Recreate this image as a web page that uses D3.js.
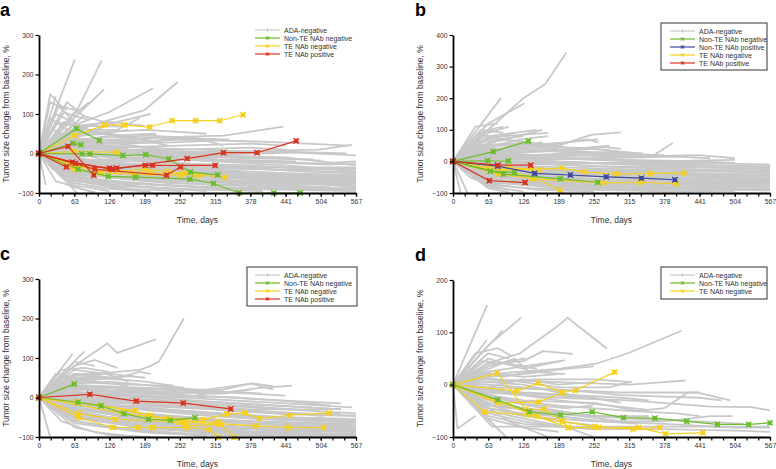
<!DOCTYPE html>
<html>
<head>
<meta charset="utf-8">
<script src="https://cdn.jsdelivr.net/npm/d3@7"></script>
<style>
  body { margin: 0; background: #fff; }
  svg { font-family: "Liberation Sans", Arial, sans-serif; }
</style>
</head>
<body>
<script>
// x ticks shared by every panel
const dayTicks = [0, 63, 126, 189, 252, 315, 378, 441, 504, 567];
const minorDays = d3.range(0, 568, 21);

// each line is a flat list: day, value, day, value ...
const grayA = [
  [0,0, 64,238], [0,0, 20,150, 40,120, 63,110], [0,0, 30,145], [0,0, 50,130, 80,95],
  [0,0, 70,115, 112,235], [0,0, 63,90, 116,162], [0,0, 60,70, 126,105, 204,165],
  [0,0, 63,60, 189,110, 248,181], [0,0, 63,40, 140,80, 200,100], [0,0, 80,60, 140,60, 180,90],
  [0,0, 63,50, 189,60, 250,55, 300,50], [0,0, 63,30, 200,40, 330,45, 437,68],
  [0,0, 63,20, 252,35, 400,30, 556,20], [0,0, 70,35, 180,30, 280,40, 330,20],
  [0,0, 63,10, 126,15, 252,20, 380,25, 441,20], [0,0, 63,-5, 189,5, 315,-5, 441,-10, 567,-30],
  [0,0, 63,-20, 189,-10, 315,-20, 441,-30, 567,-45], [0,0, 63,-30, 189,-40, 315,-50, 441,-55, 567,-70],
  [0,0, 63,-40, 200,-60, 350,-70, 500,-75, 567,-75], [0,0, 63,-50, 189,-70, 315,-80, 480,-85, 567,-90],
  [0,0, 40,-60, 126,-80, 250,-90, 400,-95], [0,0, 12,-80], [0,0, 68,-100], [0,0, 30,-70, 100,-100],
  [0,0, 63,-60, 189,-85, 300,-95], [0,0, 60,15, 120,-10, 250,-25, 378,-30, 504,-40, 567,-40],
  [0,0, 63,5, 126,-20, 252,-40, 378,-55, 504,-60, 567,-60], [0,0, 63,-10, 150,-30, 280,-45, 420,-50, 530,-55],
  [0,0, 63,-25, 140,-50, 270,-65, 410,-70, 560,-72], [0,0, 50,-35, 130,-60, 230,-75, 370,-80, 500,-85],
  [0,0, 63,25, 120,10, 200,-5, 320,-15, 460,-20], [0,0, 63,40, 100,30, 170,20, 250,0, 330,-10],
  [0,0, 45,80, 90,60, 150,40, 220,30], [0,0, 63,45, 126,50, 170,40, 230,20],
  [0,0, 30,100, 60,80, 100,50], [0,0, 25,60, 63,35, 120,25], [0,0, 40,50, 90,20, 160,10, 260,5, 350,0],
  [0,0, 63,0, 200,-20, 340,-35, 470,-45, 567,-50], [0,0, 63,-15, 160,-30, 300,-40, 440,-50, 567,-55],
  [0,0, 63,-45, 180,-55, 320,-62, 460,-65, 567,-65], [0,0, 63,-55, 200,-65, 360,-75, 500,-78, 567,-80],
  [0,0, 63,-35, 200,-45, 380,-60, 520,-60], [0,0, 63,-70, 170,-90, 260,-95], [0,0, 63,-80, 126,-95],
  [0,0, 40,-20, 120,-40, 220,-50, 330,-60, 470,-70, 567,-68], [0,0, 63,20, 140,30, 210,40, 270,35],
  [0,0, 63,65, 126,80, 189,70], [0,0, 80,95, 140,70], [0,0, 63,100, 90,130], [0,0, 20,130, 50,110],
  [0,0, 63,-8, 252,0, 441,5, 550,0], [0,0, 63,-2, 189,-15, 378,-20, 504,-25, 567,-20],
  [0,0, 70,15, 189,0, 330,5, 500,10, 560,22], [0,0, 63,-60, 150,-75, 280,-85, 420,-90, 567,-90],
  [0,0, 63,-45, 126,-60, 220,-70, 330,-72, 460,-80], [0,0, 90,-30, 190,-50, 260,-55, 380,-65, 500,-70, 567,-72],
  [0,0, 63,10, 160,-10, 300,-30, 420,-40], [0,0, 63,30, 126,45, 210,50],
  [0,0, 50,25, 126,10, 252,10, 378,15, 441,10], [0,0, 63,-25, 200,-35, 420,-40, 567,-38],
  [0,0, 63,-12, 126,-25, 220,-30, 350,-45, 470,-55, 567,-58], [0,0, 63,-18, 150,-35, 260,-42, 380,-48, 500,-62, 567,-62],
  [0,0, 63,-28, 126,-38, 252,-50, 378,-58, 504,-68], [0,0, 63,-38, 126,-48, 240,-58, 360,-62, 480,-72, 560,-78],
  [0,0, 63,-48, 140,-62, 252,-70, 400,-78, 520,-85], [0,0, 63,-58, 126,-68, 210,-78, 320,-88, 450,-92, 567,-95],
  [0,0, 63,-65, 150,-82, 270,-90, 380,-92], [0,0, 63,-75, 120,-88, 200,-97],
  [0,0, 63,2, 140,-8, 260,-15, 390,-22, 520,-28, 567,-25], [0,0, 63,8, 126,5, 240,-5, 370,-12, 490,-15],
  [0,0, 63,15, 126,20, 230,12, 330,8, 420,0], [0,0, 63,28, 140,25, 240,28, 300,32],
  [0,0, 63,35, 110,40, 200,45, 280,38, 340,35], [0,0, 40,40, 80,45, 130,55, 160,60],
  [0,0, 30,80, 63,70, 100,75], [0,0, 45,105, 63,95, 90,85], [0,0, 35,120, 63,80], [0,0, 20,90, 50,60, 80,50],
  [0,0, 63,55, 90,70, 150,68], [0,0, 63,-22, 189,-28, 315,-35, 441,-42, 567,-48],
  [0,0, 63,-33, 189,-48, 315,-58, 441,-62, 567,-60], [0,0, 63,-52, 189,-60, 315,-68, 441,-72, 567,-85],
  [0,0, 63,-68, 189,-78, 315,-85, 441,-88, 567,-88], [0,0, 63,-85, 100,-98], [0,0, 50,-50, 90,-75, 150,-90],
  [0,0, 25,-40, 60,-55, 110,-68], [0,0, 63,-6, 126,-2, 252,-10, 378,-8, 504,-18],
  [0,0, 63,18, 126,12, 252,2, 330,-2, 460,2, 567,-5], [0,0, 80,-15, 200,-22, 300,-30, 420,-35, 567,-35],
  [0,0, 63,-42, 160,-45, 300,-55, 441,-58, 567,-58], [0,0, 63,45, 100,20, 160,15], [0,0, 30,30, 63,25, 126,35, 170,28]
];
const greenA = [
  [0,0, 67,63, 108,33], [0,0, 61,26, 75,22],
  [0,0, 77,-1, 91,-1, 150,-5, 191,-3, 232,-14, 271,-47, 320,-54],
  [0,0, 70,-40, 124,-58, 173,-60, 270,-65, 312,-76, 358,-100, 420,-100, 467,-100]
];
const yellowA = [
  [0,0, 63,45, 117,72, 153,72, 198,67, 238,83, 280,83, 323,83, 365,98],
  [0,0, 63,5, 139,3],
  [0,0, 63,-30, 126,-45, 200,-50, 260,-50, 290,-55, 333,-60],
  [0,0, 70,-35, 140,-45, 189,-40, 230,-45, 280,-55],
  [0,0, 63,-40, 110,-50, 170,-52, 252,-55]
];
const redA = [
  [0,0, 49,-34],
  [0,0, 52,18, 98,-55],
  [0,0, 65,-25, 126,-37, 139,-37, 190,-30, 203,-30, 315,-30],
  [0,0, 60,-22, 130,-40, 265,-13, 330,2, 390,2, 460,32],
  [0,0, 100,-40, 228,-55, 253,-34]
];

const grayB = [
  [0,0, 126,200, 165,245, 203,345], [0,0, 86,201], [0,0, 63,120, 128,184], [0,0, 40,110, 80,120],
  [0,0, 63,90, 100,110], [0,0, 63,80, 150,100], [0,0, 70,60, 160,100],
  [0,0, 63,50, 126,60, 189,50, 240,80, 250,85, 300,92], [0,0, 63,40, 150,45, 240,70, 260,60],
  [0,0, 63,30, 189,35, 300,25, 360,20, 393,58], [0,0, 63,20, 189,20, 315,15, 441,20, 504,10],
  [0,0, 63,10, 200,10, 350,0, 504,5], [0,0, 63,0, 200,-5, 378,-10, 504,-15, 567,-20],
  [0,0, 63,-15, 200,-25, 378,-30, 567,-35], [0,0, 63,-30, 200,-45, 378,-55, 567,-55],
  [0,0, 63,-45, 200,-60, 378,-70, 567,-70], [0,0, 63,-55, 200,-75, 378,-80, 567,-80],
  [0,0, 63,-65, 200,-85, 378,-90, 567,-88], [0,0, 14,-100], [0,0, 26,-100], [0,0, 63,-80, 126,-95],
  [0,0, 63,60, 100,70], [0,0, 40,80, 63,100, 80,95], [0,0, 63,35, 126,50, 200,60, 260,70],
  [0,0, 63,25, 150,30, 250,40, 330,25], [0,0, 63,15, 140,5, 252,10, 400,15, 460,10],
  [0,0, 63,-5, 189,-10, 315,-20, 441,-25, 567,-28], [0,0, 63,-20, 189,-35, 315,-40, 441,-45, 567,-45],
  [0,0, 63,-35, 189,-50, 315,-60, 441,-62, 567,-62], [0,0, 63,-50, 189,-65, 315,-72, 441,-75, 567,-75],
  [0,0, 63,-60, 189,-80, 300,-85, 441,-85, 567,-85], [0,0, 63,-70, 150,-90, 252,-95],
  [0,0, 63,5, 126,20, 250,25, 378,20], [0,0, 63,45, 120,70, 170,80], [0,0, 63,70, 110,90],
  [0,0, 50,100, 90,90], [0,0, 63,-10, 200,-30, 350,-40, 500,-45], [0,0, 63,-25, 200,-40, 400,-50, 567,-50],
  [0,0, 63,-40, 150,-50, 300,-65, 480,-70, 567,-68], [0,0, 63,10, 126,0, 252,-5, 441,-5, 567,-10],
  [0,0, 63,-8, 126,-20, 252,-30, 378,-35, 504,-40, 567,-40], [0,0, 63,-45, 126,-55, 252,-65, 441,-70, 567,-72],
  [0,0, 63,30, 126,40, 189,30, 240,25], [0,0, 63,20, 126,30, 270,45, 300,40], [0,0, 80,50, 130,55, 160,60],
  [0,0, 63,-12, 189,-18, 315,-25, 441,-30, 567,-32], [0,0, 63,-28, 189,-30, 315,-35, 441,-40, 567,-42],
  [0,0, 63,-38, 189,-42, 315,-50, 441,-52, 567,-58], [0,0, 63,-48, 189,-55, 315,-65, 441,-68, 567,-65],
  [0,0, 63,-58, 189,-70, 315,-78, 441,-80, 567,-78], [0,0, 63,-68, 189,-75, 315,-82, 441,-88, 567,-92],
  [0,0, 63,-75, 140,-85, 252,-90, 378,-95, 504,-93], [0,0, 63,-3, 189,-2, 315,-8, 441,-12, 567,-15],
  [0,0, 63,8, 189,12, 315,5, 441,0, 504,-5], [0,0, 63,18, 140,15, 270,20, 350,15],
  [0,0, 63,28, 150,20, 200,25, 290,30, 340,25], [0,0, 63,38, 126,30, 220,40, 280,50],
  [0,0, 63,55, 126,45, 189,40], [0,0, 30,60, 63,65, 126,80], [0,0, 50,85, 90,70, 140,60],
  [0,0, 40,50, 100,55, 200,45], [0,0, 63,75, 126,85, 170,90], [0,0, 63,100, 90,110],
  [0,0, 63,-22, 126,-30, 252,-38, 378,-42, 504,-48], [0,0, 63,-32, 126,-45, 252,-55, 378,-58, 504,-62],
  [0,0, 63,-42, 126,-62, 252,-70, 378,-75], [0,0, 63,-52, 126,-70, 252,-80, 378,-84, 504,-85],
  [0,0, 63,-8, 126,-5, 252,-15, 378,-18, 504,-20, 567,-22], [0,0, 63,22, 189,10, 315,0, 441,-5],
  [0,0, 63,12, 189,0, 315,-10, 441,-18, 567,-25], [0,0, 30,-50, 63,-75, 100,-90], [0,0, 63,-85, 100,-97],
  [0,0, 63,48, 126,55, 189,45, 252,40]
];
const greenB = [
  [0,0, 72,31, 135,64], [0,0, 62,2, 99,1], [0,0, 67,-31, 110,-35], [0,0, 90,-40, 192,-55, 259,-66]
];
const blueB = [
  [0,0, 80,-15, 146,-38, 210,-43, 274,-49, 337,-53, 397,-58]
];
const yellowB = [
  [0,0, 63,-25, 140,-25, 194,-21, 234,-33, 293,-40, 353,-38, 413,-37],
  [0,0, 80,-40, 142,-55, 269,-68, 335,-66, 399,-71],
  [0,0, 63,-20, 145,-50, 192,-92],
  [0,0, 100,-20, 155,-27]
];
const redB = [
  [0,0, 65,-61, 129,-67], [0,0, 80,-12, 139,-12]
];

const grayC = [
  [0,0, 63,80, 122,137, 140,113, 209,147], [0,0, 100,60, 180,70, 200,80, 215,92, 259,200],
  [0,0, 81,117], [0,0, 60,110], [0,0, 63,80, 100,95, 140,75], [0,0, 63,60, 126,60, 190,50],
  [0,0, 63,50, 140,50, 180,65, 200,60], [0,0, 63,40, 126,35, 220,30, 260,25],
  [0,0, 63,30, 189,20, 300,20, 380,35, 419,20], [0,0, 63,20, 189,15, 315,10, 400,25, 453,30],
  [0,0, 63,10, 189,5, 315,-5, 441,-15, 560,-25], [0,0, 63,0, 189,-10, 315,-20, 441,-30, 567,-40],
  [0,0, 63,-10, 189,-25, 315,-40, 441,-50, 567,-55], [0,0, 63,-20, 189,-40, 315,-55, 441,-65, 567,-70],
  [0,0, 63,-30, 189,-55, 315,-70, 441,-78, 567,-80], [0,0, 63,-45, 189,-70, 315,-85, 441,-90, 567,-90],
  [0,0, 63,-60, 189,-85, 315,-95, 441,-97, 567,-97], [0,0, 20,-100], [0,0, 63,-75, 126,-95, 200,-100],
  [0,0, 63,25, 126,15, 250,5, 350,0, 450,-10, 520,-20], [0,0, 63,45, 100,40, 160,30],
  [0,0, 63,70, 120,60, 160,40], [0,0, 40,50, 100,45, 126,50], [0,0, 63,15, 200,0, 300,-10, 480,-25, 540,-30],
  [0,0, 63,5, 189,-15, 350,-35, 500,-45, 567,-45], [0,0, 63,-5, 189,-30, 330,-45, 460,-55, 567,-62],
  [0,0, 63,-15, 189,-45, 315,-60, 441,-70, 567,-75], [0,0, 63,-25, 189,-60, 315,-75, 441,-85, 567,-85],
  [0,0, 63,-35, 189,-65, 315,-80, 441,-92, 560,-93], [0,0, 63,-50, 189,-78, 315,-90, 441,-95],
  [0,0, 63,35, 126,40, 200,30, 280,20], [0,0, 63,20, 126,25, 220,15, 330,10, 378,20],
  [0,0, 63,-5, 126,-10, 252,-20, 378,-30, 504,-30, 540,-28], [0,0, 63,-25, 126,-35, 252,-55, 378,-60, 504,-65, 567,-65],
  [0,0, 63,-40, 126,-55, 252,-75, 378,-80, 504,-82, 567,-83], [0,0, 63,55, 90,60, 140,45],
  [0,0, 63,10, 150,20, 230,10, 300,0], [0,0, 63,-15, 140,-25, 280,-35, 378,-45, 441,-55, 510,-50],
  [0,0, 63,-8, 189,-18, 315,-28, 441,-38, 567,-48], [0,0, 63,-18, 189,-32, 315,-48, 441,-58, 567,-62],
  [0,0, 63,-28, 189,-50, 315,-62, 441,-72, 567,-78], [0,0, 63,-38, 189,-62, 315,-78, 441,-82, 567,-87],
  [0,0, 63,-52, 189,-75, 315,-88, 441,-92, 567,-93], [0,0, 63,-65, 189,-88, 300,-97],
  [0,0, 63,2, 189,-5, 315,-12, 441,-22, 520,-28], [0,0, 63,12, 189,10, 315,2, 441,-8, 540,-15],
  [0,0, 63,22, 150,25, 252,18, 350,12, 441,5], [0,0, 63,32, 126,28, 240,22, 330,15],
  [0,0, 63,42, 126,48, 189,40, 240,30], [0,0, 63,60, 126,50, 170,55], [0,0, 40,70, 80,75, 126,65],
  [0,0, 63,90, 100,80], [0,0, 30,60, 63,50, 110,55], [0,0, 63,-3, 126,-8, 252,-12, 378,-22, 504,-35],
  [0,0, 63,-13, 126,-20, 252,-35, 378,-48, 504,-55, 567,-58], [0,0, 63,-23, 126,-38, 252,-50, 378,-65, 504,-72, 567,-72],
  [0,0, 63,-33, 126,-50, 252,-68, 378,-75, 504,-78, 567,-78], [0,0, 63,-47, 126,-62, 252,-80, 378,-86, 504,-88],
  [0,0, 63,-58, 126,-75, 252,-90, 378,-92], [0,0, 40,-60, 100,-88, 160,-97],
  [0,0, 63,28, 126,18, 252,12, 330,20, 380,36, 420,28], [0,0, 63,8, 189,0, 280,5, 320,15, 400,10],
  [0,0, 63,-20, 189,-22, 315,-30, 441,-42, 540,-40]
];
const greenC = [
  [0,0, 63,34], [0,0, 70,-12, 111,-21, 152,-41, 196,-55, 235,-58, 279,-51]
];
const yellowC = [
  [0,0, 67,-12, 172,-33, 194,-47, 231,-52, 294,-56, 336,-42, 368,-39, 394,-53, 448,-45, 519,-39],
  [0,0, 70,-41, 136,-55, 254,-62, 321,-66, 388,-72, 446,-76, 509,-76],
  [0,0, 70,-50, 132,-76, 177,-76, 203,-76, 265,-76, 304,-81, 321,-101],
  [0,0, 150,-40, 260,-60, 320,-62, 349,-101],
  [0,0, 110,-20, 200,-45, 263,-72, 325,-68]
];
const redC = [
  [0,0, 91,8, 174,-9, 258,-14, 343,-29]
];

const grayD = [
  [0,0, 61,152], [0,0, 63,75, 122,128], [0,0, 89,104], [0,0, 60,85],
  [0,0, 60,40, 120,60, 185,110, 205,128, 275,69], [0,0, 63,20, 189,30, 256,40, 313,60, 409,103],
  [0,0, 63,40, 126,45, 161,64, 214,59], [0,0, 63,50, 126,30, 200,47], [0,0, 40,60, 80,70, 104,55],
  [0,0, 63,30, 110,50, 140,20], [0,0, 63,10, 189,5, 315,0, 378,5, 416,8], [0,0, 63,5, 150,10, 252,10, 320,5],
  [0,0, 63,-5, 189,-10, 300,-15, 400,-15, 438,-15, 496,-30],
  [0,0, 63,-15, 189,-25, 315,-30, 462,-42, 534,-43, 567,-49],
  [0,0, 63,-25, 189,-40, 315,-50, 400,-55, 441,-60], [0,0, 63,-40, 189,-55, 315,-65, 441,-70, 520,-75],
  [0,0, 70,-80, 567,-80], [0,0, 63,-60, 126,-75, 252,-85, 378,-85, 504,-88, 567,-90],
  [0,0, 95,-100], [0,0, 100,-70, 170,-100], [0,0, 8,-84, 40,-60], [0,0, 63,-50, 126,-65, 200,-80, 252,-100],
  [0,0, 63,-30, 126,-45, 252,-60, 350,-60], [0,0, 63,-20, 126,-30, 252,-35, 330,-50, 378,-45, 420,-15, 441,-15],
  [0,0, 63,0, 126,-5, 200,-10, 300,-20, 441,-25, 480,-30], [0,0, 63,15, 126,20, 200,30, 252,35],
  [0,0, 63,25, 126,35, 190,45], [0,0, 63,-10, 126,-15, 220,-20, 300,-25, 350,-30],
  [0,0, 63,-35, 140,-50, 230,-60, 300,-70, 380,-70, 460,-60, 500,-60],
  [0,0, 63,-45, 126,-60, 252,-70, 378,-75, 504,-82, 567,-82], [0,0, 63,-55, 126,-70, 189,-80, 252,-85],
  [0,0, 63,35, 100,45, 130,50], [0,0, 63,-5, 126,10, 189,0, 252,5], [0,0, 63,-20, 110,-35, 200,-45, 250,-40],
  [0,0, 63,12, 126,5, 189,-5, 280,-5, 315,5],
  [0,0, 63,-8, 126,-20, 189,-30, 280,-40, 350,-48], [0,0, 63,-18, 126,-38, 189,-50, 252,-60, 300,-62],
  [0,0, 63,-28, 126,-50, 189,-60, 252,-68, 330,-75], [0,0, 63,-38, 126,-58, 189,-70, 252,-78],
  [0,0, 63,5, 126,0, 189,-15, 240,-25], [0,0, 63,22, 126,15, 189,20], [0,0, 50,45, 100,40, 150,30],
  [0,0, 63,60, 100,50], [0,0, 63,-65, 126,-82, 189,-90], [0,0, 30,-30, 63,-45, 126,-55, 200,-62],
  [0,0, 63,-12, 150,-18, 250,-25, 300,-35], [0,0, 40,25, 90,15, 140,25, 200,20]
];
const greenD = [
  [0,0, 80,-29, 137,-52, 192,-58, 249,-52, 305,-63, 361,-64, 418,-70, 473,-76, 529,-76, 567,-73]
];
const yellowD = [
  [0,0, 79,22, 130,-47, 163,-47, 196,-70, 206,-82],
  [0,0, 114,-12, 152,3, 195,-15, 219,-11, 289,24],
  [0,0, 80,-35, 153,-33, 195,-15],
  [0,0, 56,-52, 134,-58, 196,-70, 254,-80, 322,-85, 370,-82],
  [0,0, 150,-60, 206,-82, 260,-82, 332,-82, 380,-94, 447,-92]
];

const yTicksA = [-100, 0, 100, 200, 300];
const yTicksB = [-100, 0, 100, 200, 300, 400];
const yTicksD = [-100, 0, 100, 200];

const colors = { gray: "#c8c8c8", green: "#6cbd2c", yellow: "#f5d01c", red: "#d8341f", blue: "#3d4a9e" };

const panels = [
  { letter: "a", left: 39, right: 356, top: 35, bottom: 193, ymax: 300, yTicks: yTicksA,
    series: [["gray", grayA], ["yellow", yellowA], ["green", greenA], ["red", redA]],
    legend: ["ADA-negative", "Non-TE NAb negative", "TE NAb negative", "TE NAb positive"],
    legendKeys: ["gray", "green", "yellow", "red"], box: null, lx: 255, ly: 30 },
  { letter: "b", left: 453, right: 770, top: 35, bottom: 193, ymax: 400, yTicks: yTicksB,
    series: [["gray", grayB], ["yellow", yellowB], ["green", greenB], ["blue", blueB], ["red", redB]],
    legend: ["ADA-negative", "Non-TE NAb negative", "Non-TE NAb positive", "TE NAb negative", "TE NAb positive"],
    legendKeys: ["gray", "green", "blue", "yellow", "red"], box: [661, 23, 106, 47], lx: 670, ly: 31 },
  { letter: "c", left: 39, right: 356, top: 279, bottom: 437, ymax: 300, yTicks: yTicksA,
    series: [["gray", grayC], ["yellow", yellowC], ["green", greenC], ["red", redC]],
    legend: ["ADA-negative", "Non-TE NAb negative", "TE NAb negative", "TE NAb positive"],
    legendKeys: ["gray", "green", "yellow", "red"], box: [247, 267, 110, 39], lx: 255, ly: 275 },
  { letter: "d", left: 453, right: 770, top: 280, bottom: 437, ymax: 200, yTicks: yTicksD,
    series: [["gray", grayD], ["yellow", yellowD], ["green", greenD]],
    legend: ["ADA-negative", "Non-TE NAb negative", "TE NAb negative"],
    legendKeys: ["gray", "green", "yellow"], box: [661, 267, 106, 32], lx: 670, ly: 275 }
];

const svg = d3.select("body").append("svg")
  .attr("width", 776)
  .attr("height", 469);

// filled square with a cross through it
const cross = "M-2.8,-2.8L2.8,2.8M-2.8,2.8L2.8,-2.8";

function toPoints(flat) {
  const pts = [];
  for (let i = 0; i < flat.length; i += 2) pts.push([flat[i], flat[i + 1]]);
  return pts;
}

function marker(sel, color, s) {
  sel.append("rect")
    .attr("x", -2.2 * s).attr("y", -2.2 * s)
    .attr("width", 4.4 * s).attr("height", 4.4 * s)
    .attr("fill", color);
  sel.append("path")
    .attr("d", cross)
    .attr("transform", "scale(" + s + ")")
    .attr("stroke", color).attr("stroke-width", 1.2);
}

panels.forEach(p => {
  const x = d3.scaleLinear().domain([0, 567]).range([p.left, p.right]);
  const y = d3.scaleLinear().domain([-100, p.ymax]).range([p.bottom, p.top]);
  const line = d3.line().x(d => x(d[0])).y(d => y(d[1]));
  const g = svg.append("g");

  // panel letter
  g.append("text")
    .attr("x", p.left - (p.letter === "a" || p.letter === "c" ? 39 : 38))
    .attr("y", p.top - 19)
    .attr("font-size", 18).attr("font-weight", "bold")
    .text(p.letter);

  // spaghetti lines
  p.series.forEach(([key, lines]) => {
    lines.forEach(flat => {
      const pts = toPoints(flat);
      g.append("path")
        .attr("d", line(pts))
        .attr("fill", "none")
        .attr("stroke", colors[key])
        .attr("stroke-width", key === "gray" ? 1.8 : 1.2)
        .attr("stroke-linejoin", "round");
      if (key !== "gray") {
        g.selectAll(null).data(pts).enter().append("g")
          .attr("transform", d => "translate(" + x(d[0]) + "," + y(d[1]) + ")")
          .each(function () { marker(d3.select(this), colors[key], 1); });
      }
    });
  });

  // x axis with minor ticks
  g.append("g")
    .attr("transform", "translate(0," + p.bottom + ")")
    .call(d3.axisBottom(x).tickValues(minorDays).tickSize(3.5).tickSizeOuter(0).tickFormat(""))
    .call(a => a.select(".domain").remove())
    .selectAll("line").attr("stroke-width", 1.2);
  g.append("g")
    .attr("class", "x axis")
    .attr("transform", "translate(0," + p.bottom + ")")
    .call(d3.axisBottom(x).tickValues(dayTicks).tickSize(3.5).tickSizeOuter(0).tickPadding(3))
    .call(a => a.select(".domain").attr("stroke-width", 1.8))
    .call(a => a.selectAll("line").attr("stroke-width", 1.2))
    .call(a => a.selectAll("text").attr("font-size", 6.8).attr("font-family", "Liberation Sans, Arial, sans-serif").attr("fill", "#333"));

  // y axis
  g.append("g")
    .attr("class", "y axis")
    .attr("transform", "translate(" + p.left + ",0)")
    .call(d3.axisLeft(y).tickValues(p.yTicks).tickSize(3.5).tickSizeOuter(0).tickPadding(2))
    .call(a => a.select(".domain").attr("stroke-width", 1.8))
    .call(a => a.selectAll("line").attr("stroke-width", 1.2))
    .call(a => a.selectAll("text").attr("font-size", 6.8).attr("font-family", "Liberation Sans, Arial, sans-serif").attr("fill", "#333"));

  // axis titles
  g.append("text")
    .attr("x", (p.left + p.right) / 2)
    .attr("y", p.bottom + 30)
    .attr("text-anchor", "middle")
    .attr("font-size", 8.5).attr("fill", "#333")
    .text("Time, days");
  g.append("text")
    .attr("transform", "rotate(-90)")
    .attr("x", -(p.top + p.bottom) / 2)
    .attr("y", p.left - 30)
    .attr("text-anchor", "middle")
    .attr("font-size", 8.5).attr("fill", "#333")
    .text("Tumor size change from baseline, %");

  // legend
  if (p.box) {
    g.append("rect")
      .attr("x", p.box[0]).attr("y", p.box[1])
      .attr("width", p.box[2]).attr("height", p.box[3])
      .attr("fill", "#fff").attr("stroke", "#333").attr("stroke-width", 1);
  }
  p.legend.forEach((name, i) => {
    const key = p.legendKeys[i];
    const ly = p.ly + i * 8;
    g.append("line")
      .attr("x1", p.lx).attr("x2", p.lx + 25)
      .attr("y1", ly).attr("y2", ly)
      .attr("stroke", colors[key]).attr("stroke-width", 1.2);
    if (key === "gray") {
      g.append("line")
        .attr("x1", p.lx + 12.5).attr("x2", p.lx + 12.5)
        .attr("y1", ly - 1.5).attr("y2", ly + 1.5)
        .attr("stroke", "#aaa").attr("stroke-width", 0.8);
    } else {
      marker(g.append("g").attr("transform", "translate(" + (p.lx + 12.5) + "," + ly + ")"), colors[key], 0.6);
    }
    g.append("text")
      .attr("x", p.lx + 29).attr("y", ly + 2.5)
      .attr("font-size", 7).attr("fill", "#333")
      .text(name);
  });
});
</script>
</body>
</html>
